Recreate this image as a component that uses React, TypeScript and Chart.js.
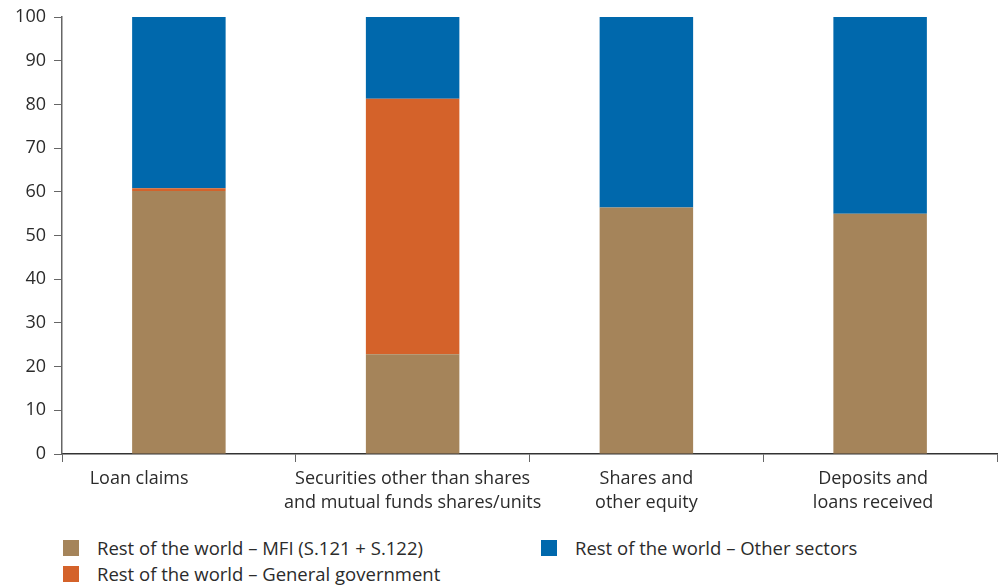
import React, { useEffect, useRef } from "react";
import { Chart, registerables } from "chart.js";

Chart.register(...registerables);

const NB = "\u00A0";
const categories: (string | string[])[] = [
  "Loan claims" + NB.repeat(17),
  ["Securities other than shares", "and mutual funds shares/units"],
  ["Shares and", "other equity"],
  ["Deposits and" + NB.repeat(3), "loans received" + NB.repeat(3)],
];
const mfiValues = [60.2, 22.8, 56.4, 55.0];
const govValues = [0.6, 58.5, 0, 0];
const otherValues = [39.2, 18.7, 43.6, 45.0];

const seriesNames = [
  "Rest of the world – MFI (S.121 + S.122)",
  "Rest of the world – General government",
  "Rest of the world – Other sectors",
];
const seriesColors = ["#A5845A", "#D4622A", "#0068AC"];

const FONT = "'Open Sans', Lato, sans-serif";
const TEXT = "#2b2b2b";
const AXIS = "#666666";

export default function App() {
  const ref = useRef<HTMLCanvasElement | null>(null);

  useEffect(() => {
    if (!ref.current) return;
    const chart = new Chart(ref.current, {
      type: "bar",
      data: {
        labels: categories,
        datasets: [mfiValues, govValues, otherValues].map((d, i) => ({
          label: seriesNames[i],
          data: d,
          backgroundColor: seriesColors[i],
          borderWidth: 0,
          categoryPercentage: 0.4,
          barPercentage: 1,
        })),
      },
      options: {
        animation: false,
        responsive: false,
        maintainAspectRatio: false,
        layout: { padding: { top: 12, right: 1, left: 0, bottom: 0 } },
        plugins: { legend: { display: false }, tooltip: { enabled: false } },
        scales: {
          x: {
            stacked: true,
            offset: true,
            grid: {
              offset: true,
              drawOnChartArea: false,
              drawTicks: true,
              tickLength: 8,
              color: AXIS,
            },
            border: { color: "#333", width: 1.5 },
            ticks: {
              color: TEXT,
              font: { family: FONT, size: 18, lineHeight: 1.33 },
              padding: 5,
              maxRotation: 0,
              autoSkip: false,
            },
            afterFit: (s: any) => {
              s.height = 66;
            },
          },
          y: {
            stacked: true,
            min: 0,
            max: 100,
            grid: {
              drawOnChartArea: false,
              drawTicks: true,
              tickLength: 8,
              color: AXIS,
            },
            border: { color: AXIS, width: 1.5 },
            ticks: {
              stepSize: 10,
              color: TEXT,
              font: { family: FONT, size: 18, lineHeight: 1.0 },
              padding: 8,
            },
            afterFit: (s: any) => {
              s.width = 62;
            },
          },
        },
      },
    });
    return () => chart.destroy();
  }, []);

  const legendItem = (i: number, left: number, top: number) => (
    <div
      key={i}
      style={{
        position: "absolute",
        left,
        top,
        display: "flex",
        alignItems: "center",
        fontFamily: FONT,
        fontSize: 18.5,
        color: TEXT,
        whiteSpace: "nowrap",
        lineHeight: "20px",
      }}
    >
      <span
        style={{
          display: "inline-block",
          width: 16,
          height: 16,
          background: seriesColors[i],
          marginRight: 18,
        }}
      />
      <span>{seriesNames[i]}</span>
    </div>
  );

  return (
    <div
      style={{
        position: "fixed",
        left: 0,
        top: 0,
        width: 998,
        height: 585,
        background: "#fff",
        overflow: "hidden",
      }}
    >
      <canvas ref={ref} width={998} height={520} style={{ display: "block" }} />
      {legendItem(0, 63, 538)}
      {legendItem(1, 63, 564)}
      {legendItem(2, 541, 538)}
    </div>
  );
}
